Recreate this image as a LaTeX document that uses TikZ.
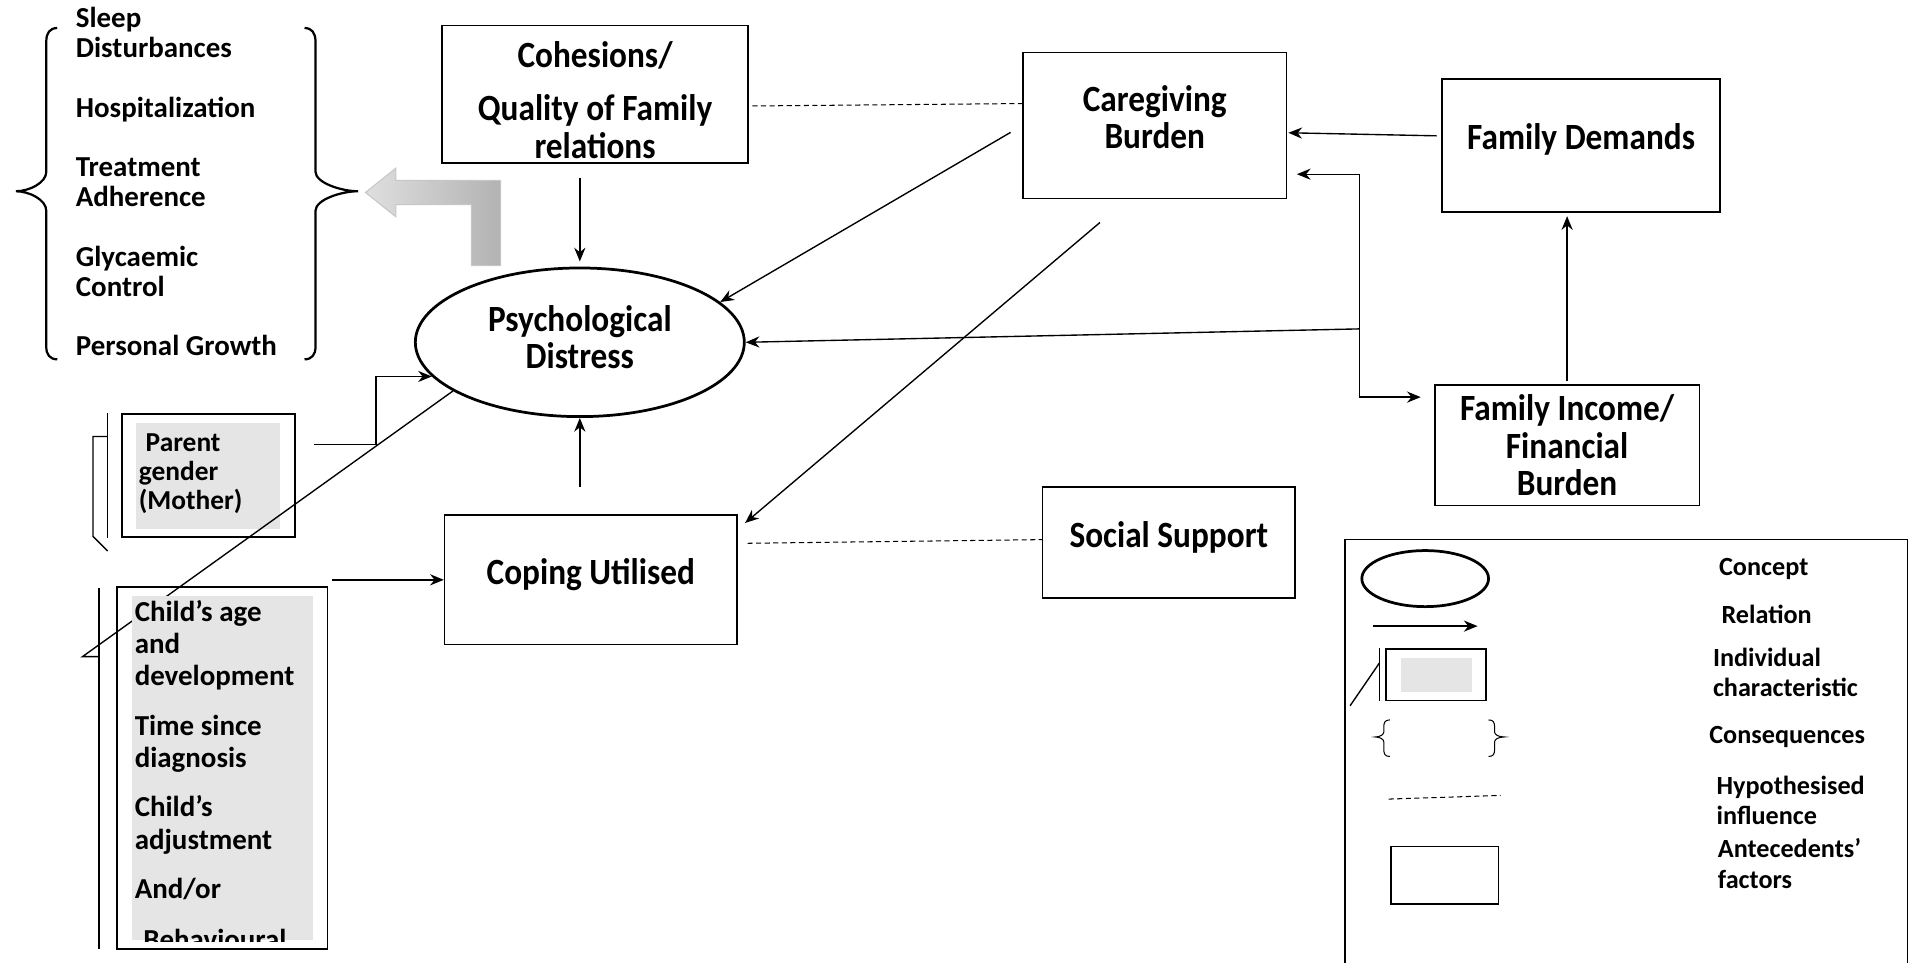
\documentclass[tikz,border=0pt]{standalone}
\usepackage{fontspec}
\setmainfont{Carlito}
\newfontfamily\boxfont[FakeStretch=0.9]{Carlito}
\usetikzlibrary{shapes,arrows.meta,positioning,shapes.geometric}

\begin{document}
\begin{tikzpicture}[x=0.025cm, y=-0.025cm, >={Stealth[length=8pt,width=6.5pt]}]
    % Define block styles
    \tikzstyle{factor} = [rectangle, draw=black, line width=0.9pt, align=center, inner sep=0pt, font=\boxfont\bfseries\fontsize{21.6}{22}\selectfont]
    \tikzstyle{concept} = [ellipse, draw=black, line width=1.6pt, align=center, inner sep=0pt, font=\boxfont\bfseries\fontsize{21.6}{22}\selectfont]
    \tikzstyle{indiv} = [rectangle, draw=black, line width=0.9pt, inner sep=0pt, path picture={\fill[gray!20] ([shift={(12,7)}]path picture bounding box.north west) rectangle ([shift={(-12,-7)}]path picture bounding box.south east);}]
    \tikzstyle{listtext} = [align=left, inner sep=0pt, font=\bfseries\fontsize{16.9}{17.4}\selectfont]
    \tikzstyle{legendtext} = [align=left, anchor=west, inner sep=0pt, font=\bfseries\fontsize{15.3}{17.8}\selectfont]
    \tikzstyle{arrow} = [->, line width=0.8pt]
    \tikzstyle{hypo} = [dash pattern=on 3pt off 2pt, line width=0.6pt]

    \useasboundingbox (0,0) rectangle (1568,790);

    % Consequences
    \draw[line width=1.3pt] (47,23) .. controls (41,23) and (38,27) .. (38,34) -- (38,141) .. controls (38,150) and (24,157) .. (13,157) .. controls (24,157) and (38,164) .. (38,173) -- (38,285) .. controls (38,291) and (41,295) .. (47,295);
    \draw[line width=1.3pt] (250,23) .. controls (256,23) and (259,27) .. (259,34) -- (259,141) .. controls (259,150) and (280,157) .. (294,157) .. controls (280,157) and (259,164) .. (259,173) -- (259,285) .. controls (259,291) and (256,295) .. (250,295);
    \node (conseq) [listtext, anchor=north west] at (62,6) {Sleep\\Disturbances\\[17.4pt]Hospitalization\\[17.4pt]Treatment\\Adherence\\[17.4pt]Glycaemic\\Control\\[17.4pt]Personal Growth};
    \shadedraw[left color=gray!25, right color=gray!60, draw=gray!45, line width=0.6pt] (300,158) -- (325,138) -- (325,148) -- (411,148) -- (411,218) -- (387,218) -- (387,168) -- (325,168) -- (325,178) -- cycle;

    % Nodes
    \node (coh) [factor, minimum width=6.275cm, minimum height=2.825cm] at (488.5,77.5) {\mbox{}\\Cohesions/\\[9pt]Quality of Family\\relations};
    \node (care) [factor, minimum width=5.4cm, minimum height=3cm] at (948,103) {Caregiving\\Burden\\[-12pt]\mbox{}};
    \node (dem) [factor, minimum width=5.7cm, minimum height=2.725cm] at (1298,119.5) {Family Demands\\[-12pt]\mbox{}};
    \node (psy) [concept, minimum width=6.75cm, minimum height=3.05cm] at (476,281) {Psychological\\Distress\\[-16pt]\mbox{}};
    \node (inc) [factor, minimum width=5.425cm, minimum height=2.475cm] at (1286.5,365.5) {Family Income/\\Financial\\Burden};
    \node (soc) [factor, minimum width=5.175cm, minimum height=2.275cm] at (959.5,445.5) {Social Support\\[-12pt]\mbox{}};
    \node (cope) [factor, minimum width=6cm, minimum height=2.65cm] at (485,476) {Coping Utilised\\[-12pt]\mbox{}};

    % Individual characteristics
    \node (par) [indiv, minimum width=3.55cm, minimum height=2.525cm, text width=2.85cm, align=left, font=\bfseries\fontsize{16}{17}\selectfont] at (171,390.5) {\hspace{4pt}Parent\\gender\\(Mother)\\[-12pt]\mbox{}};
    \draw[line width=0.8pt] ([shift={(-11,0)}]par.north west) -- ([shift={(-11,0)}]par.south west);
    \draw[line width=0.8pt] ([shift={(-11,19)}]par.north west) -- ++(-12,0) -- ++(0,82) -- ++(12,12);
    \draw[line width=0.8pt] (psy.201) -- ++(-304,218) -- ++(14,0);
    \node (chi) [indiv, minimum width=4.325cm, minimum height=7.425cm] at (182.5,630.5) {};
    \draw[line width=0.8pt] ([shift={(-14,1)}]chi.north west) -- ([shift={(-14,-1)}]chi.south west);
    \begin{scope}
        \clip ([shift={(12,7)}]chi.north west) rectangle ([shift={(-12,-7)}]chi.south east);
        \node (chitxt) [listtext, anchor=north west, font=\bfseries\fontsize{16.9}{18.85}\selectfont] at ([shift={(15,11)}]chi.north west) {Child’s age\\and\\development\\[10pt]Time since\\diagnosis\\[10pt]Child’s\\adjustment\\[10pt]And/or\\[11pt]\hspace{5pt}Behavioural};
    \end{scope}

    % Arrows between nodes
    \draw [arrow, shorten <=8pt, shorten >=3pt] (coh.south -| psy.north) -- (psy.north);
    \draw [arrow, shorten <=16pt] (cope.north -| psy.south) -- (psy.south);
    \draw [arrow, shorten <=8pt] (care.west) -- (psy.16);
    \draw [arrow] ([shift={(-45,19)}]care.south) -- ([shift={(6,7)}]cope.north east);
    \draw [arrow] ([shift={(-4,-8)}]dem.west) -- ([shift={(1,6)}]care.east);
    \draw [arrow, shorten <=2pt, shorten >=2pt] (inc.north) -- (inc.north |- dem.south);
    \coordinate (fork) at (1116,270);
    \draw [arrow] (fork) |- ([shift={(8,40)}]care.east);
    \draw [arrow] (fork) |- ([shift={(-11,-39.5)}]inc.west);
    \draw [arrow] (fork) -- (psy.east);
    \draw [arrow] ([shift={(15,-25.5)}]par.east) -- ++(51,0) |- (psy.193);
    \draw [arrow, shorten <=2pt] (cope.west -| chi.east) -- (cope.west);
    \draw [hypo] ([shift={(3,9.5)}]coh.east) -- ([shift={(0,-18)}]care.west);
    \draw [hypo] ([shift={(8,-30)}]cope.east) -- ([shift={(0,-2.5)}]soc.west);

    % Legend
    \node (legend) [rectangle, draw=black, line width=0.9pt, minimum width=11.55cm, minimum height=10cm] at (1335,643) {};
    \node (lgcon) [concept, minimum width=2.6cm, minimum height=1.15cm] at (1170,475) {};
    \coordinate (lgrelA) at (1127,514);
    \coordinate (lgrelB) at (1213,514);
    \draw [arrow] (lgrelA) -- (lgrelB);
    \node (lgind) [indiv, minimum width=2.05cm, minimum height=1.05cm] at (1179,554) {};
    \draw[line width=0.8pt] ([shift={(-5,0)}]lgind.north west) -- ([shift={(-5,0)}]lgind.south west);
    \draw[line width=0.8pt] ([shift={(-5,12)}]lgind.north west) -- ++(-24,35);
    \draw[line width=0.6pt] (1141,591) .. controls (1137,591) and (1136,593) .. (1136,597) -- (1136,601) .. controls (1136,603) and (1133,605) .. (1129,605) .. controls (1133,605) and (1136,607) .. (1136,609) -- (1136,615) .. controls (1136,619) and (1137,621) .. (1141,621);
    \draw[line width=0.6pt] (1222,591) .. controls (1226,591) and (1227,593) .. (1227,597) -- (1227,601) .. controls (1227,603) and (1230,605) .. (1235,605) .. controls (1230,605) and (1227,607) .. (1227,609) -- (1227,615) .. controls (1227,619) and (1226,621) .. (1222,621);
    \coordinate (lghypA) at (1140,656);
    \coordinate (lghypB) at (1232,653);
    \draw [hypo] (lghypA) -- (lghypB);
    \node (lgant) [rectangle, draw=black, line width=0.9pt, minimum width=2.2cm, minimum height=1.175cm] at (1186,718.5) {};
    \node (lbcon) [legendtext] at (1411,467) {Concept};
    \node (lbrel) [legendtext] at (1413,504) {Relation};
    \node (lbind) [legendtext] at (1406,552) {Individual\\characteristic};
    \node (lbcons) [legendtext] at (1403,605) {Consequences};
    \node (lbhyp) [legendtext] at (1409,657) {Hypothesised\\influence};
    \node (lbant) [legendtext] at (1410,709) {Antecedents’\\factors};
\end{tikzpicture}
\end{document}
